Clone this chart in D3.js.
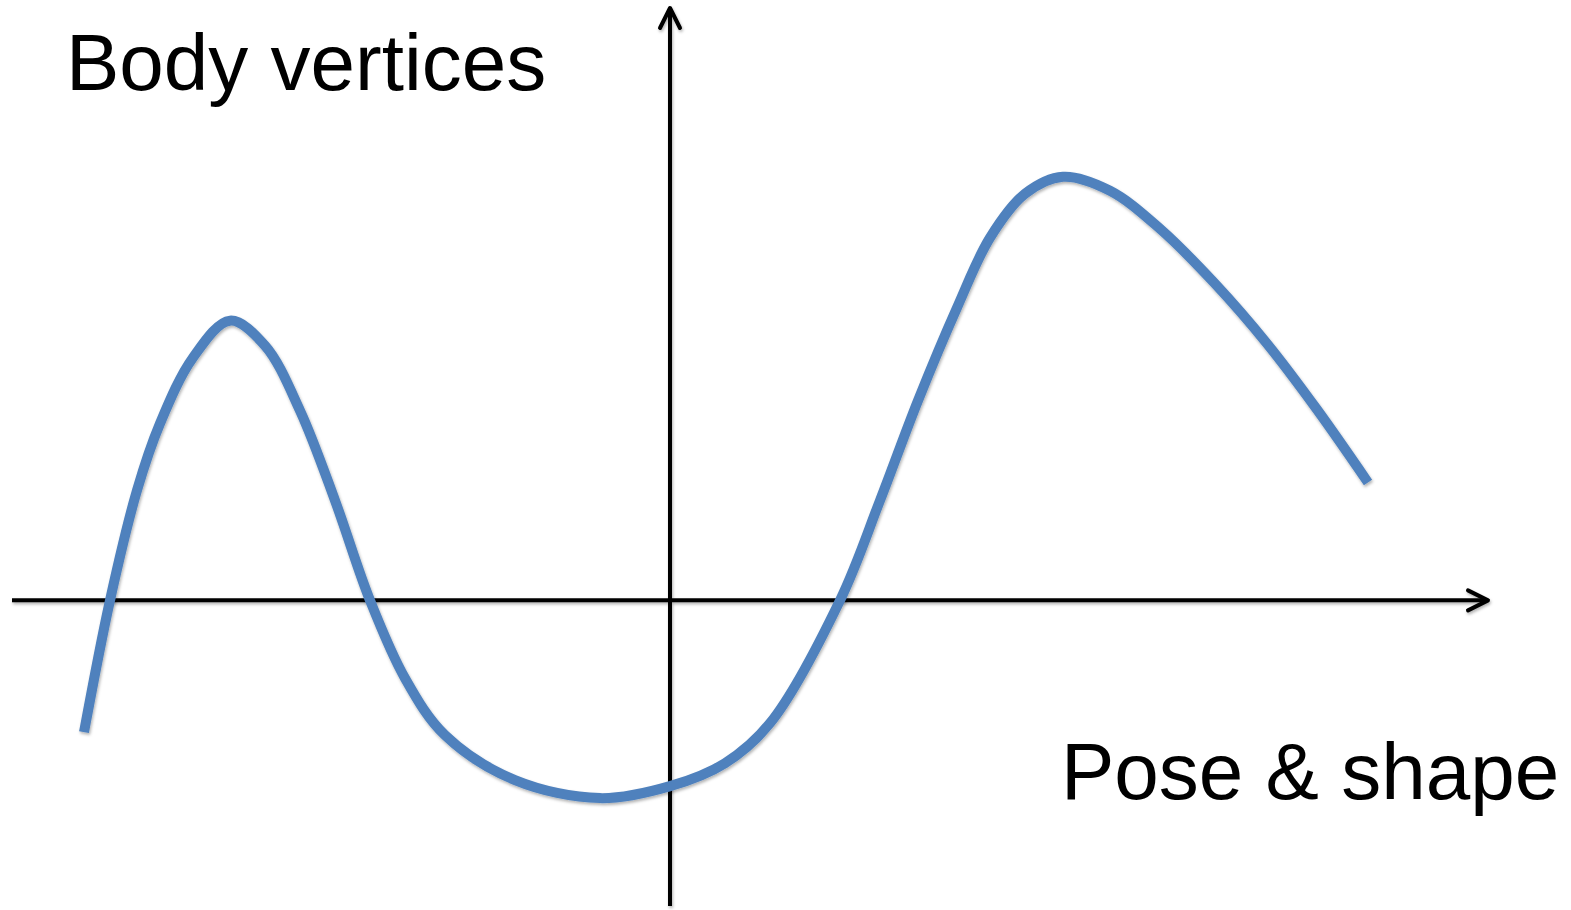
<!DOCTYPE html>
<html>
<head>
<meta charset="utf-8">
<script src="https://cdn.jsdelivr.net/npm/d3@7"></script>
<style>
  html, body { margin: 0; padding: 0; background: #ffffff; }
  svg { display: block; }
  text { font-family: "Liberation Sans", Arial, sans-serif; fill: #000; }
</style>
</head>
<body>
<script>
// Axis extents (origin at the crossing of the two axes)
const xExtent = [-658, 818];
const yExtent = [-306, 593];

// Curve samples: pose & shape parameter vs. body vertex value
const poseValues = [-586, -560, -533, -510, -477, -440, -405, -370, -335, -300,
  -265, -225, -155, -70, 0, 55, 100, 170, 210, 248, 287, 320, 355,
  393, 440, 490, 545, 597, 647, 698];
const vertexValues = [-132, 0, 110, 177, 243, 280, 255, 190, 100, 0,
  -78, -135, -180, -198, -186, -163, -123, 0, 100, 200, 293, 363, 407,
  424, 410, 372, 317, 257, 191, 118];

// Axis titles
const yTitle = "Body vertices";
const xTitle = "Pose & shape";

const W = 1571, H = 910;
const margin = { left: 12, right: W - 1488, top: 8, bottom: H - 906 };

const svg = d3.select("body").append("svg")
  .attr("width", W).attr("height", H);

const x = d3.scaleLinear().domain(xExtent).range([margin.left, W - margin.right]);
const y = d3.scaleLinear().domain(yExtent).range([H - margin.bottom, margin.top]);

// soft drop shadow under the strokes
const defs = svg.append("defs");
const f = defs.append("filter").attr("id", "shadow")
  .attr("x", "-5%").attr("y", "-5%").attr("width", "110%").attr("height", "110%");
f.append("feDropShadow")
  .attr("dx", 1).attr("dy", 2).attr("stdDeviation", 1.5)
  .attr("flood-color", "#000").attr("flood-opacity", 0.3);

const axisG = svg.append("g").attr("filter", "url(#shadow)")
  .attr("stroke", "#000").attr("stroke-width", 4)
  .attr("stroke-linecap", "round").attr("stroke-linejoin", "round").attr("fill", "none");

const x0 = x(0), y0 = y(0);
const head = 20, spread = 10;

// horizontal axis with open arrowhead
axisG.append("line")
  .attr("x1", x(xExtent[0])).attr("y1", y0)
  .attr("x2", x(xExtent[1]) - 2).attr("y2", y0)
  .attr("stroke-linecap", "butt");
axisG.append("path")
  .attr("d", d3.line()([
    [x(xExtent[1]) - head, y0 - spread],
    [x(xExtent[1]), y0],
    [x(xExtent[1]) - head, y0 + spread]
  ]));

// vertical axis with open arrowhead
axisG.append("line")
  .attr("x1", x0).attr("y1", y(yExtent[0]))
  .attr("x2", x0).attr("y2", y(yExtent[1]) + 2)
  .attr("stroke-linecap", "butt");
axisG.append("path")
  .attr("d", d3.line()([
    [x0 - spread, y(yExtent[1]) + head],
    [x0, y(yExtent[1])],
    [x0 + spread, y(yExtent[1]) + head]
  ]));

// the curve
const pts = poseValues.map((p, i) => [p, vertexValues[i]]);
const line = d3.line()
  .x(d => x(d[0]))
  .y(d => y(d[1]))
  .curve(d3.curveCatmullRom.alpha(0.5));

svg.append("path")
  .datum(pts)
  .attr("d", line)
  .attr("fill", "none")
  .attr("stroke", "#4f81bd")
  .attr("stroke-width", 10)
  .attr("stroke-linecap", "butt")
  .attr("filter", "url(#shadow)");

// titles
svg.append("text")
  .attr("x", 66).attr("y", 90)
  .attr("font-size", 80)
  .text(yTitle);

svg.append("text")
  .attr("x", 1061).attr("y", 799)
  .attr("font-size", 80)
  .text(xTitle);
</script>
</body>
</html>
